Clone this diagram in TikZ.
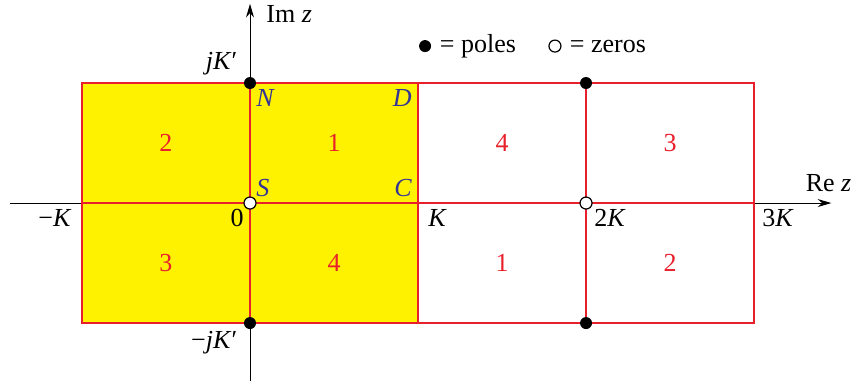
\documentclass[tikz,border=0pt]{standalone}
\usepackage{fontspec}
\setmainfont{Liberation Serif}
\usetikzlibrary{positioning,arrows.meta}
\definecolor{CellRed}{RGB}{232,32,44}
\definecolor{CellYellow}{RGB}{255,242,0}
\definecolor{CornerBlue}{RGB}{52,52,150}
\tikzset{
  axis/.style={-{Stealth[length=2.4mm,width=1.4mm]},line width=0.45pt,draw=black},
  grid/.style={draw=CellRed,line width=0.7pt},
  midline/.style={draw=CellRed,line width=1.1pt},
  pole/.style={circle,fill=black,inner sep=0pt,minimum size=6pt},
  zero/.style={circle,draw=black,fill=white,semithick,inner sep=0pt,minimum size=6pt},
  cell/.style={text=CellRed,font=\fontsize{13}{15}\selectfont},
  corner/.style={text=CornerBlue,font=\fontsize{13}{15}\selectfont\itshape,inner sep=3pt},
  tick/.style={font=\fontsize{13}{15}\selectfont,inner sep=3pt}
}
\begin{document}
\begin{tikzpicture}[x=84pt,y=60pt]
  \useasboundingbox (-1.488,-1.5) rectangle (3.583,1.692);
  % shaded fundamental strip
  \fill[CellYellow] (-1,-1) rectangle (1,1);
  % axes
  \coordinate (xl) at (-1.43,0);
  \coordinate (xr) at (3.46,0);
  \coordinate (yb) at (0,-1.48);
  \coordinate (yt) at (0,1.66);
  \draw[axis] (xl) -- (xr);
  \draw[axis] (yb) -- (yt);
  % period cells
  \draw[grid] (-1,-1) rectangle (3,1);
  \draw[grid] (-1,0) -- (3,0);
  \draw[grid] (0,-1) -- (0,1);
  \draw[grid] (1,-1) -- (1,1);
  \draw[midline] (2,-1) -- (2,1);
  % cell numbers
  \foreach \x/\up/\dn in {-0.5/2/3,0.5/1/4,1.5/4/1,2.5/3/2} {
    \node[cell] at (\x,0.5) {\up};
    \node[cell] at (\x,-0.5) {\dn};
  }
  % poles and zeros
  \node[pole] (p1) at (0,1) {};
  \node[pole] (p2) at (0,-1) {};
  \node[pole] (p3) at (2,1) {};
  \node[pole] (p4) at (2,-1) {};
  \node[zero] (z1) at (0,0) {};
  \node[zero] (z2) at (2,0) {};
  % corner letters
  \node[corner,anchor=north west] (N) at (0,1) {N};
  \node[corner,anchor=north east] (D) at (1,1) {D};
  \node[corner,anchor=south west] (S) at (0,0) {S};
  \node[corner,anchor=south east] (C) at (1,0) {C};
  % axis marks
  \node[tick,anchor=north east] (m0) at (0,0) {0};
  \node[tick,anchor=north west,xshift=2pt] (mK) at (1,0) {\textit{K}};
  \node[tick,anchor=north west,xshift=1pt] (m2K) at (2,0) {2\textit{K}};
  \node[tick,anchor=north west,xshift=1pt] (m3K) at (3,0) {3\textit{K}};
  \node[tick,anchor=north east,xshift=-2pt] (mmK) at (-1,0) {−\textit{K}};
  \node[tick,anchor=south east,yshift=1pt] (mjK) at (p1.west) {\textit{jK}′};
  \node[tick,anchor=north east,yshift=-1pt] (mmjK) at (p2.west) {−\textit{jK}′};
  \node[tick,anchor=west] (imz) at (0.06,1.575) {Im \textit{z}};
  \node[tick,anchor=south west] (rez) at (3.27,0.04) {Re \textit{z}};
  % legend
  \node[pole] (lp) at (1.042,1.308) {};
  \node[tick,right=1pt of lp] {= poles};
  \node[zero] (lz) at (1.815,1.308) {};
  \node[tick,right=1pt of lz] {= zeros};
\end{tikzpicture}
\end{document}
